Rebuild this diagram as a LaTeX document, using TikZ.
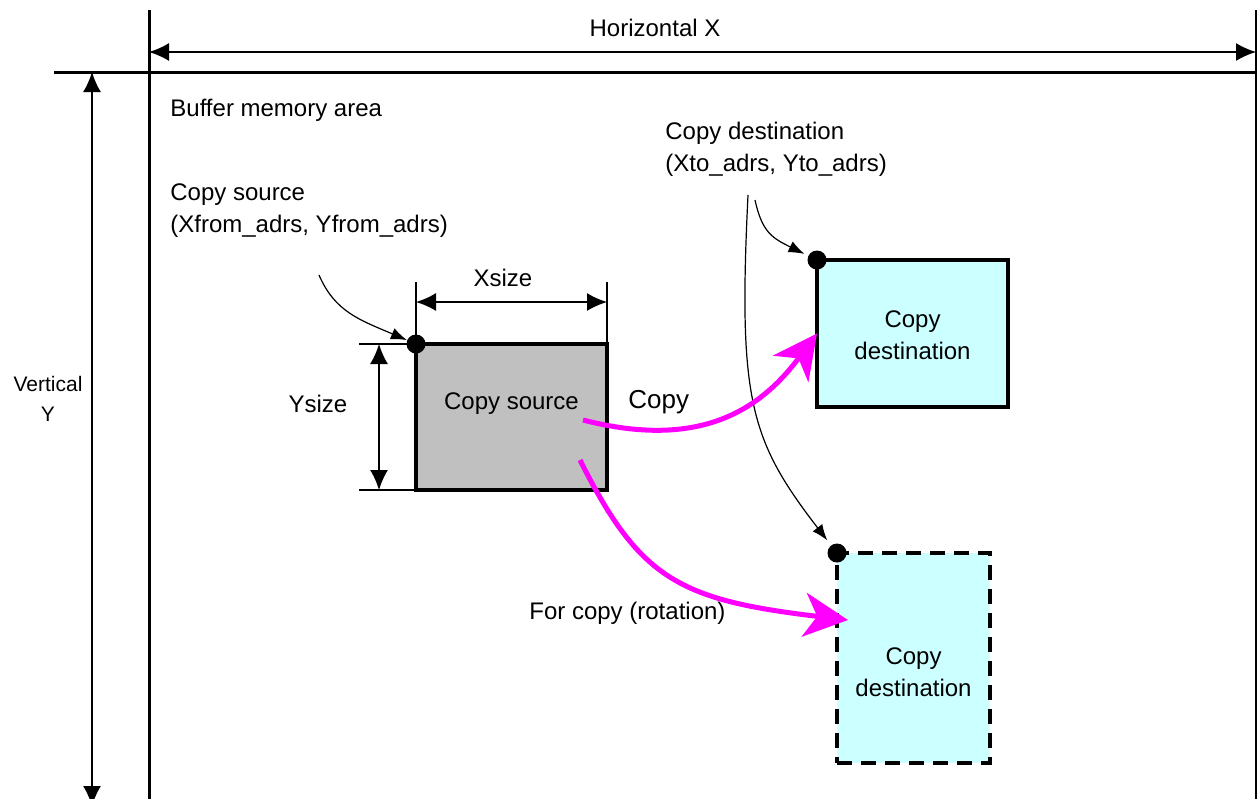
\documentclass[tikz,border=0pt]{standalone}
\usepackage{fontspec}
\setmainfont{Liberation Sans}
\usepackage{xcolor}
\usetikzlibrary{arrows.meta,positioning}

\definecolor{srcgray}{HTML}{C0C0C0}
\definecolor{dstcyan}{HTML}{CCFFFF}
\definecolor{copymagenta}{HTML}{FF00FF}

\begin{document}
\begin{tikzpicture}[
    x=0.5pt, y=-0.5pt,
    font=\fontsize{12}{16}\selectfont,
    area/.style={line width=1.5pt},
    dimline/.style={line width=0.75pt},
    dimarrow/.style={line width=0.75pt, {Latex[length=10pt,width=9pt]}-{Latex[length=10pt,width=9pt]}},
    srcbox/.style={rectangle, draw, line width=1.8pt, fill=srcgray, inner sep=0pt, outer sep=0pt, minimum width=95.5pt, minimum height=73pt},
    dstbox/.style={rectangle, draw, line width=1.8pt, fill=dstcyan, inner sep=0pt, outer sep=0pt},
    boxtext/.style={align=center, inner sep=0pt},
    dot/.style={circle, fill, inner sep=0pt, minimum size=9.5pt},
    pointer/.style={line width=0.6pt, -{Latex[length=8pt,width=6pt]}},
    copyarrow/.style={line width=2.5pt, draw=copymagenta, -{Stealth[length=22pt,width=22pt,inset=6.5pt]}},
    txt/.style={inner sep=0pt, align=left, anchor=west}
]
\useasboundingbox (0,0) rectangle (1257,798);
\clip (0,0) rectangle (1257,798);

% Buffer memory area
\coordinate (nw) at (149,72);
\coordinate (ne) at (1256,72);
\draw[area] (54,72) -- (1257,72);
\draw[area] (149,10) -- (149,805);
\draw[area] (ne) -- (1256,805);
\draw[dimline] (1256,10) -- (ne);
\node[txt] (bufname) at (170,110) {Buffer memory area};

% Horizontal / vertical size
\draw[dimarrow] (149,52) -- (1256,52);
\node (hlabel) at (655,28) {Horizontal X};
\draw[dimarrow] (92,72) -- (92,806);
\node[align=center, inner sep=0pt, font=\fontsize{10.5}{15}\selectfont] (vlabel) at (48,399) {Vertical\\Y};

% Copy source
\node[srcbox, anchor=north west] (src) at (416,344) {};
\node[boxtext] (srctxt) at ([yshift=6.5pt]src.center) {Copy source};
\node[dot] (srcdot) at (src.north west) {};
\node[txt] (srcname) at (170,211) {Copy source\\(Xfrom\_adrs, Yfrom\_adrs)};
\coordinate (srcfrom) at (319,275);

% Xsize and Ysize
\coordinate (xext) at (0,282);
\coordinate (xdim) at (0,302);
\coordinate (yext) at (359,0);
\coordinate (ydim) at (379,0);
\draw[dimline] (src.north west) -- (src.north west |- xext);
\draw[dimline] (src.north east) -- (src.north east |- xext);
\draw[dimarrow] (src.north west |- xdim) -- (src.north east |- xdim);
\node (xsize) at (503,278) {Xsize};
\draw[dimline] (src.north west) -- (yext |- src.north west);
\draw[dimline] (src.south west) -- (yext |- src.south west);
\draw[dimarrow] (ydim |- src.north west) -- (ydim |- src.south west);
\node (ysize) at (318,404) {Ysize};

% Copy destinations
\node[dstbox, anchor=north west, minimum width=95.5pt, minimum height=73.5pt] (dst1) at (817,260) {};
\node[boxtext] (dst1txt) at ([yshift=-1pt]dst1.center) {Copy\\destination};
\node[dot] (dst1dot) at (dst1.north west) {};
\node[dstbox, dashed, dash pattern=on 7.5pt off 4.5pt, anchor=north west, minimum width=76.5pt, minimum height=105pt] (dst2) at (837,553) {};
\node[boxtext] (dst2txt) at ([yshift=-7pt]dst2.center) {Copy\\destination};
\node[dot] (dst2dot) at (dst2.north west) {};
\node[txt] (dstname) at (665,149) {Copy destination\\(Xto\_adrs, Yto\_adrs)};
\coordinate (dstfrom1) at (755,200);
\coordinate (dstfrom2) at (748,195);

% Pointers
\draw[pointer] (srcfrom) .. controls (335,312) and (360,320) .. (srcdot);
\draw[pointer, shorten >=2pt] (dstfrom1) .. controls (762,232) and (772,238) .. (dst1dot);
\draw[pointer, shorten >=3pt] (dstfrom2) .. controls (738,400) and (750,440) .. (dst2dot);

% Copy arrows
\coordinate (cpfrom) at (583,420);
\coordinate (rotfrom) at (580,460);
\coordinate (rotend) at (848,620);
\draw[copyarrow] (cpfrom) .. controls (700,450) and (760,410) .. (dst1.west);
\node[txt, font=\fontsize{13}{16}\selectfont] (cplabel) at (628,402) {Copy};
\draw[copyarrow] (rotfrom) .. controls (640,580) and (680,600) .. (rotend);
\node[txt] (rotlabel) at (529,613) {For copy (rotation)};

\end{tikzpicture}
\end{document}
